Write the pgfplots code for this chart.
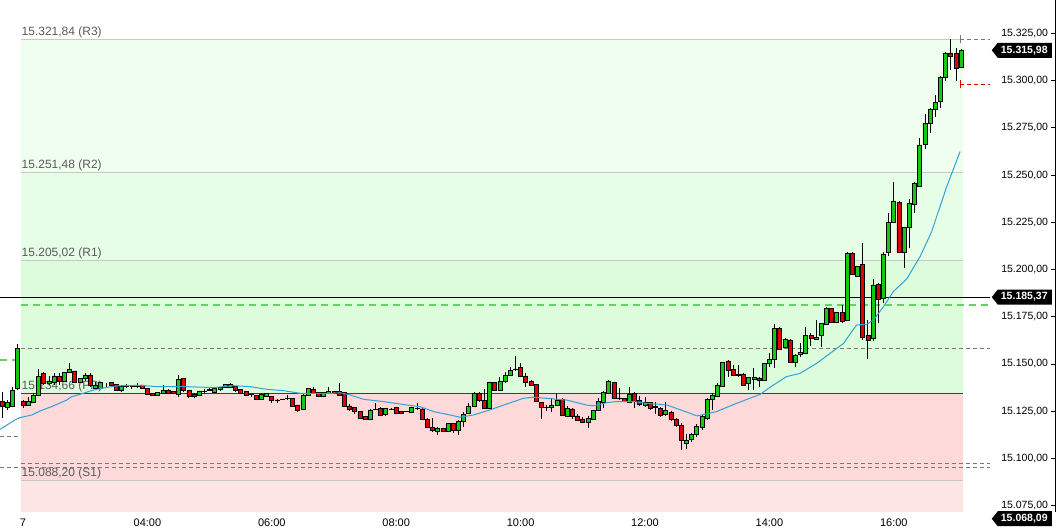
\documentclass[border=0pt]{standalone}
\usepackage{fontspec}
\setmainfont{Liberation Sans}
\usepackage{pgfplots}
\usepackage{pgfplotstable}
\pgfplotsset{compat=1.18}
\definecolor{cgreen}{RGB}{20,200,20}
\definecolor{cred}{RGB}{225,0,0}
\definecolor{bandA}{RGB}{240,254,240}
\definecolor{bandB}{RGB}{230,253,230}
\definecolor{bandC}{RGB}{220,252,220}
\definecolor{bandD}{RGB}{253,217,217}
\definecolor{bandE}{RGB}{253,229,229}
\definecolor{piv}{RGB}{200,200,200}
\definecolor{ppline}{RGB}{60,60,60}
\definecolor{macol}{RGB}{45,163,215}
\definecolor{labgray}{RGB}{90,90,90}
\definecolor{gdash}{RGB}{105,208,105}
\definecolor{dgray}{RGB}{120,120,120}

\pgfplotstableread{
i o h l c
0 15130.4 15135.3 15121.2 15127.4
1 15126.9 15130.9 15125.7 15129.5
2 15127.4 15138.0 15127.4 15136.2
3 15137.1 15160.6 15136.2 15158.3
4 15130.1 15130.9 15126.9 15128.3
5 15128.3 15132.4 15127.9 15130.1
6 15129.5 15134.5 15129.4 15133.6
7 15133.6 15147.2 15133.6 15143.3
8 15145.0 15145.6 15138.9 15139.8
9 15139.8 15143.6 15138.9 15141.0
10 15140.1 15145.0 15138.9 15143.6
11 15143.6 15145.4 15138.9 15140.7
12 15140.7 15145.9 15140.3 15145.8
13 15145.6 15150.3 15145.0 15147.2
14 15146.3 15146.5 15140.1 15140.3
15 15140.3 15142.8 15139.8 15142.4
16 15142.4 15145.0 15141.0 15144.2
17 15144.2 15145.0 15138.0 15138.5
18 15137.1 15140.7 15136.8 15138.5
19 15137.1 15140.7 15136.6 15140.1
20 15139.8 15139.9 15138.0 15139.8
21 15140.1 15140.7 15138.9 15138.9
22 15139.2 15139.4 15135.9 15135.9
23 15135.9 15138.7 15135.3 15138.4
24 15138.0 15139.4 15137.1 15138.2
25 15138.2 15138.9 15136.9 15138.0
26 15138.0 15139.8 15137.1 15138.5
27 15138.9 15139.0 15137.0 15137.1
28 15137.1 15137.1 15133.9 15134.1
29 15134.5 15134.8 15133.1 15133.6
30 15133.6 15134.9 15133.5 15134.8
31 15134.5 15138.9 15134.1 15136.2
32 15136.2 15136.6 15133.9 15134.5
33 15135.4 15135.5 15134.3 15134.5
34 15134.1 15144.2 15132.7 15141.9
35 15142.4 15142.8 15135.4 15135.9
36 15136.2 15136.3 15131.8 15132.7
37 15133.9 15134.5 15132.2 15132.7
38 15133.6 15135.9 15133.5 15135.7
39 15135.5 15136.6 15134.1 15135.7
40 15136.2 15137.5 15135.7 15136.4
41 15135.0 15137.5 15134.5 15137.1
42 15136.6 15138.0 15135.9 15137.5
43 15137.5 15139.3 15137.4 15139.2
44 15137.5 15139.8 15137.1 15139.2
45 15138.0 15138.3 15135.4 15135.9
46 15136.6 15136.7 15134.4 15134.5
47 15135.4 15135.9 15133.1 15133.6
48 15133.7 15134.1 15132.7 15133.6
49 15133.2 15133.6 15130.9 15131.5
50 15131.5 15134.5 15130.9 15134.1
51 15132.7 15134.6 15132.6 15134.5
52 15133.0 15133.1 15129.5 15130.9
53 15131.0 15131.3 15129.5 15130.9
54 15131.2 15131.5 15130.8 15131.3
55 15131.8 15133.6 15130.9 15131.9
56 15131.8 15132.0 15127.7 15127.8
57 15128.3 15128.4 15124.8 15125.7
58 15126.2 15134.8 15126.0 15133.6
59 15133.6 15137.2 15133.1 15137.1
60 15136.6 15138.0 15134.4 15134.5
61 15134.8 15134.9 15132.6 15132.7
62 15132.7 15134.9 15132.6 15134.8
63 15134.5 15138.0 15134.4 15135.4
64 15135.4 15135.5 15134.4 15134.5
65 15135.4 15139.8 15133.5 15133.6
66 15134.8 15135.3 15127.3 15127.4
67 15127.8 15128.8 15125.3 15126.0
68 15126.9 15127.4 15123.5 15124.8
69 15124.8 15125.1 15120.7 15121.2
70 15122.1 15122.2 15120.6 15120.7
71 15120.7 15126.0 15120.4 15125.6
72 15125.9 15129.2 15125.6 15126.0
73 15126.5 15127.4 15122.5 15123.0
74 15123.5 15126.9 15122.5 15126.5
75 15126.1 15126.5 15125.9 15126.2
76 15126.9 15127.4 15123.5 15123.9
77 15125.1 15125.2 15123.8 15123.9
78 15124.8 15125.0 15124.5 15124.7
79 15124.4 15127.0 15124.3 15126.9
80 15126.5 15129.2 15125.6 15126.6
81 15126.2 15126.5 15120.4 15120.7
82 15120.7 15121.2 15115.9 15116.5
83 15116.5 15121.2 15114.2 15114.7
84 15114.2 15116.5 15112.4 15115.9
85 15115.9 15116.0 15114.1 15114.2
86 15114.2 15118.7 15114.1 15118.6
87 15118.6 15118.9 15113.3 15115.1
88 15115.1 15120.4 15112.4 15119.5
89 15119.5 15124.8 15116.5 15123.5
90 15124.0 15129.5 15123.8 15127.8
91 15127.4 15135.3 15127.3 15134.5
92 15134.5 15135.3 15130.1 15130.6
93 15130.9 15136.6 15126.4 15126.5
94 15126.5 15140.6 15126.4 15140.5
95 15140.1 15140.6 15135.9 15136.2
96 15136.2 15143.3 15135.9 15141.0
97 15140.7 15145.9 15140.1 15144.2
98 15144.0 15148.6 15143.9 15146.8
99 15147.4 15154.2 15146.5 15147.3
100 15148.2 15150.3 15142.9 15143.3
101 15143.6 15145.0 15138.0 15140.1
102 15140.6 15141.5 15138.5 15138.9
103 15139.2 15139.3 15130.0 15130.1
104 15129.7 15130.1 15120.9 15126.9
105 15126.9 15128.3 15125.3 15127.0
106 15126.9 15131.8 15124.8 15128.3
107 15128.0 15134.5 15127.9 15130.9
108 15131.3 15131.8 15122.5 15122.6
109 15122.1 15127.8 15121.8 15126.5
110 15126.2 15126.9 15120.7 15122.5
111 15122.5 15123.5 15119.8 15120.4
112 15120.9 15121.8 15118.6 15119.1
113 15118.9 15122.5 15115.9 15121.2
114 15120.9 15125.6 15120.4 15125.3
115 15125.3 15131.8 15125.2 15130.1
116 15129.7 15135.7 15126.5 15135.0
117 15134.5 15141.5 15134.1 15141.0
118 15140.3 15140.6 15131.5 15131.8
119 15131.9 15137.1 15130.9 15131.8
120 15131.8 15131.9 15130.0 15130.1
121 15129.7 15138.0 15129.2 15134.1
122 15134.5 15135.2 15126.9 15130.1
123 15130.6 15133.1 15127.9 15128.8
124 15128.3 15132.4 15127.4 15129.5
125 15129.7 15130.1 15125.6 15126.5
126 15127.4 15130.1 15123.5 15127.3
127 15126.5 15127.4 15121.8 15123.0
128 15123.2 15130.1 15122.5 15125.6
129 15124.2 15125.1 15119.8 15120.7
130 15120.7 15121.2 15116.5 15117.4
131 15117.4 15118.6 15104.5 15109.8
132 15108.0 15113.0 15104.8 15109.8
133 15110.0 15113.5 15108.5 15112.5
134 15112.5 15118.0 15111.5 15117.0
135 15116.5 15123.0 15115.0 15122.1
136 15121.2 15131.8 15120.3 15131.3
137 15131.3 15134.5 15125.6 15133.6
138 15133.1 15139.8 15132.7 15138.9
139 15138.3 15151.2 15138.0 15150.9
140 15151.6 15152.1 15143.3 15146.5
141 15147.2 15149.5 15143.7 15143.8
142 15144.7 15149.5 15143.3 15143.8
143 15144.5 15145.0 15138.3 15138.9
144 15139.8 15143.3 15136.2 15143.1
145 15142.0 15147.7 15136.2 15143.1
146 15142.6 15143.3 15138.0 15141.2
147 15141.2 15150.7 15141.1 15150.3
148 15150.3 15155.6 15148.6 15152.5
149 15152.5 15171.2 15147.7 15168.9
150 15168.9 15169.4 15157.4 15157.9
151 15158.8 15163.6 15158.3 15163.2
152 15162.7 15163.0 15150.7 15150.9
153 15150.9 15155.3 15148.6 15154.8
154 15155.1 15161.3 15153.9 15156.2
155 15155.6 15169.8 15155.3 15165.0
156 15165.3 15166.2 15159.5 15163.6
157 15163.0 15173.3 15162.7 15164.1
158 15165.0 15171.9 15159.2 15171.5
159 15171.0 15180.3 15170.6 15179.4
160 15179.4 15179.8 15171.9 15172.0
161 15172.0 15177.7 15171.5 15177.3
162 15177.3 15181.2 15171.9 15172.4
163 15172.9 15209.4 15172.8 15208.6
164 15208.6 15209.4 15197.1 15197.4
165 15196.2 15201.8 15195.9 15201.5
166 15202.7 15213.8 15162.7 15164.1
167 15165.2 15173.3 15152.5 15162.3
168 15163.6 15194.8 15162.3 15191.8
169 15192.1 15192.7 15171.5 15184.2
170 15184.7 15209.4 15182.1 15208.2
171 15209.1 15230.1 15207.0 15225.0
172 15225.0 15246.5 15224.5 15236.3
173 15235.5 15236.0 15208.5 15209.1
174 15208.9 15222.7 15200.6 15222.3
175 15222.3 15237.3 15211.5 15234.8
176 15234.5 15246.1 15230.1 15245.6
177 15244.2 15269.8 15243.8 15265.7
178 15266.2 15282.3 15263.6 15277.4
179 15277.4 15285.3 15272.4 15284.9
180 15284.8 15292.3 15280.9 15288.6
181 15288.8 15302.4 15285.3 15301.9
182 15301.7 15315.3 15299.9 15314.6
183 15314.6 15321.8 15305.6 15313.0
184 15314.2 15317.0 15299.9 15306.5
185 15306.8 15316.5 15306.8 15316.0
}\candles

\newcommand{\pricetag}[2]{%
  \fill[black, shift={(axis cs:190.9,#1)}] (0bp,0bp) -- (6bp,7.5bp) -- (60bp,7.5bp) -- (60bp,-7.5bp) -- (6bp,-7.5bp) -- cycle;
  \node[text=white, inner sep=0, font=\bfseries\fontsize{10.5bp}{12bp}\selectfont, xshift=32.5bp] at (axis cs:190.9,#1) {#2};
}
\newcommand{\pivlabel}[2]{%
  \node[anchor=base west, inner sep=0, text=labgray, font=\fontsize{12bp}{14bp}\selectfont, yshift=3.8bp] at (axis cs:3.7,#1) {#2};
}

\begin{document}
\begin{tikzpicture}
\pgfplotsset{commonax/.style={at={(0,16bp)}, anchor=south west, scale only axis,
  width=1055bp, height=512bp, xmin=-0.44, xmax=203.1, enlargelimits=false}}
\useasboundingbox (0,0) rectangle (1056bp,528bp);

\begin{axis}[commonax, ymin=15071.66, ymax=15342.62, clip=false,
  axis x line*=bottom, axis y line*=right,
  x axis line style={draw=none},
  y axis line style={line width=0.8bp},
  tick align=inside, major tick length=4bp,
  xtick={4,28,52,76,100,124,148,172},
  xticklabels={7,04:00,06:00,08:00,10:00,12:00,14:00,16:00},
  xtick style={draw=none},
  xticklabel style={font=\fontsize{11bp}{13bp}\selectfont, yshift=-3.5bp},
  ytick={15075,15100,15125,15150,15175,15200,15225,15250,15275,15300,15325},
  ytick style={line width=0.8bp, black},
  scaled y ticks=false,
  yticklabel style={/pgf/number format/.cd, fixed, fixed zerofill, precision=2, use comma, assume math mode=true,
     /tikz/.cd, font=\fontsize{10.5bp}{12bp}\selectfont, anchor=east, xshift=-3.5bp},
]
% zone shading
\addplot[draw=none, fill=bandA] coordinates {(3.56,15251.48) (185.36,15251.48) (185.36,15321.84) (3.56,15321.84)} -- cycle;
\addplot[draw=none, fill=bandB] coordinates {(3.56,15205.02) (185.36,15205.02) (185.36,15251.48) (3.56,15251.48)} -- cycle;
\addplot[draw=none, fill=bandC] coordinates {(3.56,15134.66) (185.36,15134.66) (185.36,15205.02) (3.56,15205.02)} -- cycle;
\addplot[draw=none, fill=bandD] coordinates {(3.56,15088.20) (185.36,15088.20) (185.36,15134.66) (3.56,15134.66)} -- cycle;
\addplot[draw=none, fill=bandE] coordinates {(3.56,15071.66) (185.36,15071.66) (185.36,15088.20) (3.56,15088.20)} -- cycle;
% pivot lines
\addplot[piv, line width=0.9bp] coordinates {(3.56,15321.84) (184.8,15321.84)};
\addplot[piv, line width=0.9bp] coordinates {(3.56,15251.48) (185.36,15251.48)};
\addplot[piv, line width=0.9bp] coordinates {(3.56,15205.02) (185.36,15205.02)};
\addplot[ppline, line width=0.9bp] coordinates {(3.56,15134.66) (185.36,15134.66)};
\addplot[piv, line width=0.9bp] coordinates {(3.56,15088.20) (185.36,15088.20)};
% other levels
\addplot[dgray, line width=0.7bp, dash pattern=on 4bp off 3bp] coordinates {(3.56,15158.3) (190.57,15158.3)};
\addplot[dgray, line width=0.7bp, dash pattern=on 4bp off 3bp] coordinates {(3.56,15097.4) (190.57,15097.4)};
\addplot[dgray, line width=0.7bp, dash pattern=on 4bp off 3bp] coordinates {(-0.44,15095.3) (190.57,15095.3)};
\addplot[dgray, line width=0.7bp, dash pattern=on 4bp off 3bp] coordinates {(-0.44,15111.5) (3.56,15111.5)};
\addplot[gdash, line width=2.2bp, dash pattern=on 7bp off 5bp] coordinates {(3.56,15181.1) (190.57,15181.1)};
\addplot[gdash, line width=2.2bp, dash pattern=on 7bp off 5bp] coordinates {(-0.44,15152.1) (3.2,15152.1)};
\addplot[black, line width=0.9bp] coordinates {(-0.44,15185.37) (190.57,15185.37)};
% right markers
\addplot[dgray, line width=0.7bp, dash pattern=on 4bp off 3bp] coordinates {(184.8,15321.84) (190.57,15321.84)};
\addplot[dgray, line width=0.7bp] coordinates {(184.8,15319.7) (184.8,15324.0)};
\addplot[red!85!black, line width=0.7bp, dash pattern=on 4bp off 3bp] coordinates {(184.8,15298.0) (190.57,15298.0)};
\addplot[red!85!black, line width=0.7bp] coordinates {(184.8,15295.9) (184.8,15300.2)};
% pivot labels
\pivlabel{15321.84}{15.321,84 (R3)}
\pivlabel{15251.48}{15.251,48 (R2)}
\pivlabel{15205.02}{15.205,02 (R1)}
\pivlabel{15134.66}{15.134,66 (PP)}
\pivlabel{15088.20}{15.088,20 (S1)}
% wicks
\addplot[draw=none, mark=none, mark size=0pt, error bars/.cd, y dir=plus, y explicit, error mark=none,
  error bar style={draw=black, solid, line width=0.8bp}]
  table[x=i, y=l, y error expr=\thisrow{h}-\thisrow{l}] {\candles};
\end{axis}

% candle bodies (values offset by 15000 inside this stacked axis)
\begin{axis}[commonax, ymin=71.66, ymax=342.62, hide axis, ybar stacked, bar width=4bp]
\addplot[draw=none, fill=none] table[x=i, y expr={min(\thisrow{o},\thisrow{c})-15000}] {\candles};
\addplot[draw=black, fill=cgreen, line width=0.7bp] table[x=i, y expr={max(\thisrow{c}-\thisrow{o},0)}] {\candles};
\addplot[draw=black, fill=cred, line width=0.7bp] table[x=i, y expr={max(\thisrow{o}-\thisrow{c},0)}] {\candles};
\end{axis}

\begin{axis}[commonax, ymin=15071.66, ymax=15342.62, hide axis, clip=false]
\addplot[macol, line width=1bp] coordinates {
(-0.44,15115.4) (2.46,15120.4) (3.42,15121.6) (5.67,15123.0) (7.28,15125.1) (9.85,15127.8)
(12.42,15130.9) (13.39,15132.7) (15.64,15134.5) (17.57,15136.2) (20.14,15137.6) (22.07,15138.4)
(26.57,15138.7) (29.79,15138.0) (35.58,15138.0) (40.72,15137.5) (44.58,15138.5) (47.8,15138.0)
(51.0,15136.6) (54.2,15135.9) (57.4,15134.5) (63.9,15134.5) (65.16,15134.8) (67.1,15133.6)
(69.7,15131.3) (73.5,15130.1) (78.0,15128.3) (80.6,15127.4) (83.2,15124.8) (86.4,15123.0)
(88.3,15121.8) (90.9,15123.0) (94.1,15125.7) (97.3,15128.8) (100.5,15131.8) (102.5,15132.4)
(105.0,15131.8) (108.9,15130.9) (112.7,15128.3) (114.0,15127.8) (116.6,15129.5) (118.5,15130.1)
(121.8,15130.1) (124.3,15129.2) (128.2,15128.3) (132.7,15123.9) (134.0,15122.5) (137.8,15124.8)
(141.7,15129.2) (146.2,15133.9) (148.8,15138.9) (151.3,15143.3) (153.9,15145.0) (157.1,15150.3)
(159.7,15155.6) (162.3,15160.9) (164.8,15170.6) (166.8,15171.0) (168.1,15173.3) (170.0,15180.3)
(171.9,15188.3) (174.5,15195.0) (177.1,15207.0) (179.3,15220.0) (182.2,15243.8) (184.8,15262.4)
};
\pricetag{15315.98}{15.315,98}
\pricetag{15185.37}{15.185,37}
\pricetag{15068.09}{15.068,09}
\end{axis}
\end{tikzpicture}
\end{document}
